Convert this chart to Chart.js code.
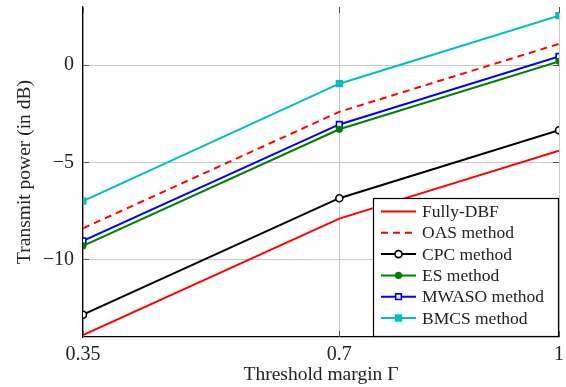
<!DOCTYPE html>
<html>
<head>
<meta charset="utf-8">
<script src="https://cdn.jsdelivr.net/npm/chart.js@4"></script>
<style>
  html, body { margin: 0; padding: 0; background: #fff; }
  #wrap { width: 566px; height: 387px; }
</style>
</head>
<body>
<div id="wrap"><canvas id="powerChart" width="566" height="387"></canvas></div>
<script>
// threshold margin values (x axis)
const thresholds = [0.35, 0.7, 1];
const xTicks = [0.35, 0.7, 1];
const yTicks = [-10, -5, 0];

// transmit power in dB, one array per method
const fullyDbf = [-13.9, -7.9, -4.4];
const oas = [-8.4, -2.4, 1.1];
const cpc = [-12.85, -6.85, -3.35];
const es = [-9.3, -3.3, 0.2];
const mwaso = [-9.05, -3.05, 0.45];
const bmcs = [-7.0, -0.95, 2.55];

const serif = "'Liberation Serif', 'DejaVu Serif', serif";

function pts(values) {
  return thresholds.map((x, i) => ({ x: x, y: values[i] }));
}

function series(label, values, color, extra) {
  return Object.assign(
    {
      label: label,
      data: pts(values),
      borderColor: color,
      backgroundColor: color,
      borderWidth: 2,
      pointRadius: 0,
      pointBorderWidth: 1.6,
      fill: false,
      tension: 0,
    },
    extra
  );
}

//! short inward tick marks on all four sides (pgfplots look)
const innerTicks = {
  id: "innerTicks",
  beforeDatasetsDraw(chart) {
    const ctx = chart.ctx;
    const a = chart.chartArea;
    const xs = chart.scales.x;
    const ys = chart.scales.y;
    ctx.save();
    ctx.strokeStyle = "#555";
    ctx.lineWidth = 1;
    ctx.beginPath();
    xTicks.forEach((v) => {
      const px = Math.round(xs.getPixelForValue(v)) + 0.5;
      ctx.moveTo(px, a.top);
      ctx.lineTo(px, a.top + 6);
      ctx.moveTo(px, a.bottom);
      ctx.lineTo(px, a.bottom - 6);
    });
    yTicks.forEach((v) => {
      const py = Math.round(ys.getPixelForValue(v)) + 0.5;
      ctx.moveTo(a.left, py);
      ctx.lineTo(a.left + 6, py);
      ctx.moveTo(a.right, py);
      ctx.lineTo(a.right - 6, py);
    });
    ctx.stroke();
    ctx.restore();
  },
};

//! legend drawn inside the bottom-right corner of the plot
const cornerLegend = {
  id: "cornerLegend",
  afterDraw(chart) {
    const ctx = chart.ctx;
    const area = chart.chartArea;
    const w = 186;
    const h = 139;
    const x0 = area.right - w;
    const y0 = area.bottom - h;
    ctx.save();
    ctx.fillStyle = "#fff";
    ctx.fillRect(x0, y0, w, h);
    ctx.strokeStyle = "#000";
    ctx.lineWidth = 1.2;
    ctx.strokeRect(x0 + 0.5, y0 + 0.5, w - 1, h - 1);
    ctx.font = "17.5px " + serif;
    ctx.textBaseline = "middle";
    chart.data.datasets.forEach((ds, i) => {
      const cy = y0 + 13.5 + i * 21.3;
      ctx.strokeStyle = ds.borderColor;
      ctx.lineWidth = ds.borderWidth;
      ctx.setLineDash(ds.borderDash || []);
      ctx.beginPath();
      ctx.moveTo(x0 + 8, cy);
      ctx.lineTo(x0 + 43, cy);
      ctx.stroke();
      ctx.setLineDash([]);
      if (ds.pointRadius > 0) {
        const cx = x0 + 25.5;
        const r = ds.pointRadius;
        ctx.fillStyle = ds.pointBackgroundColor || ds.borderColor;
        ctx.strokeStyle = ds.pointBorderColor || ds.borderColor;
        ctx.lineWidth = ds.pointBorderWidth;
        ctx.beginPath();
        if (ds.pointStyle === "rect") {
          const s = r * Math.SQRT2;
          ctx.rect(cx - s / 2, cy - s / 2, s, s);
        } else {
          ctx.arc(cx, cy, r, 0, Math.PI * 2);
        }
        ctx.fill();
        ctx.stroke();
      }
      ctx.fillStyle = "#222";
      ctx.fillText(ds.label, x0 + 49, cy + 1);
    });
    ctx.restore();
  },
};

const powerCtx = document.getElementById("powerChart").getContext("2d");
const powerChart = new Chart(powerCtx, {
  type: "line",
  data: {
    datasets: [
      series("Fully-DBF", fullyDbf, "#ff0000"),
      series("OAS method", oas, "#ff0000", { borderDash: [7, 5] }),
      series("CPC method", cpc, "#000000", {
        pointRadius: 3.5,
        pointBackgroundColor: "#fff",
        pointBorderColor: "#000",
      }),
      series("ES method", es, "#008000", {
        pointRadius: 2.8,
        pointBackgroundColor: "#008000",
      }),
      series("MWASO method", mwaso, "#0000ff", {
        pointStyle: "rect",
        pointRadius: 4,
        pointBackgroundColor: "#fff",
        pointBorderColor: "#0000ff",
      }),
      series("BMCS method", bmcs, "#00bfbf", {
        pointStyle: "rect",
        pointRadius: 4,
        pointBackgroundColor: "#00bfbf",
      }),
    ],
  },
  options: {
    responsive: false,
    animation: false,
    layout: { padding: { top: 7, right: 7, left: 0, bottom: 0 } },
    scales: {
      x: {
        type: "linear",
        min: 0.35,
        max: 1,
        afterBuildTicks: (s) => { s.ticks = xTicks.map((v) => ({ value: v })); },
        afterFit: (s) => {
          s.height = 50;
          s.paddingLeft = 0;
          s.paddingRight = 0;
        },
        border: { color: "#000", width: 1.2 },
        grid: { color: "#c8c8c8", drawTicks: false },
        ticks: {
          color: "#222",
          padding: 6,
          maxRotation: 0,
          font: { family: serif, size: 20 },
          callback: (v) => String(v),
        },
        title: {
          display: true,
          text: "Threshold margin Γ",
          color: "#222",
          padding: { top: 0, bottom: 0 },
          font: { family: serif, size: 19.5 },
        },
      },
      y: {
        min: -14,
        max: 3,
        afterBuildTicks: (s) => { s.ticks = yTicks.map((v) => ({ value: v })); },
        afterFit: (s) => {
          s.width = 83;
          s.paddingTop = 0;
          s.paddingBottom = 0;
        },
        border: { color: "#000", width: 1.2 },
        grid: { color: "#c8c8c8", drawTicks: false },
        ticks: {
          color: "#222",
          padding: 9,
          font: { family: serif, size: 20 },
          callback: (v) => (v < 0 ? "\u2212" + Math.abs(v) : String(v)),
        },
        title: {
          display: true,
          text: "Transmit power (in dB)",
          color: "#222",
          padding: { top: 13, bottom: 2 },
          font: { family: serif, size: 19.5 },
        },
      },
    },
    plugins: {
      legend: { display: false },
      tooltip: { enabled: false },
    },
  },
  plugins: [innerTicks, cornerLegend],
});
</script>
</body>
</html>
